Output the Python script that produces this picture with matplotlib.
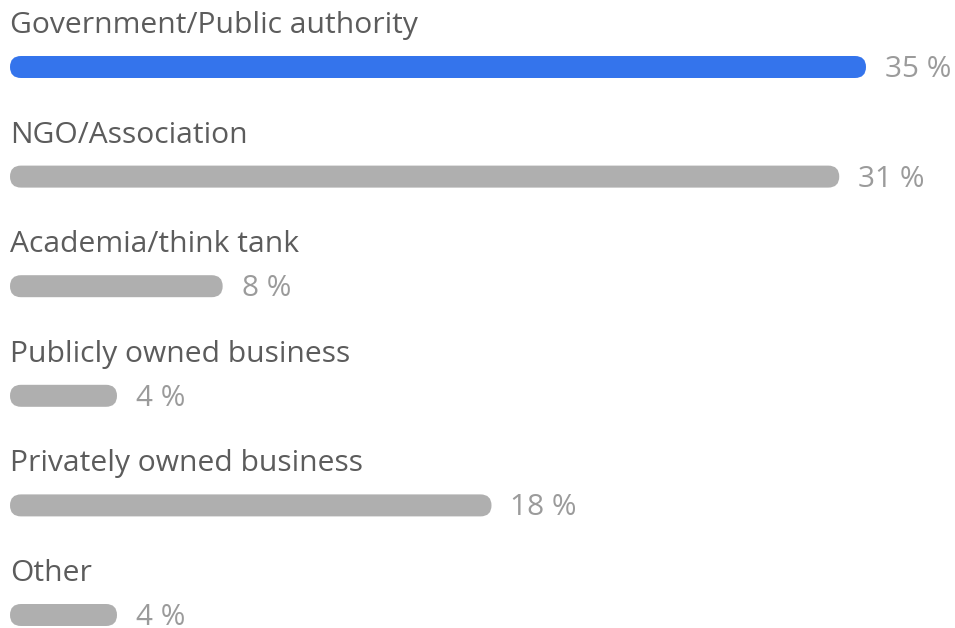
import matplotlib
matplotlib.use("Agg")
import matplotlib.pyplot as plt
from matplotlib.patches import FancyBboxPatch

plt.rcParams['font.family'] = ['Open Sans', 'DejaVu Sans']

categories = ["Government/Public authority", "NGO/Association", "Academia/think tank",
              "Publicly owned business", "Privately owned business", "Other"]
# bar lengths (in %)
values = [32.0, 31.0, 7.95, 4.0, 18.0, 4.0]
pct_labels = ["35 %", "31 %", "8 %", "4 %", "18 %", "4 %"]
highlight = 0

W, H = 955, 628
px_x = 26.75          # pixels per percent
row_px = 109.6        # pixels per row
bar_px = 22

fig = plt.figure(figsize=(W / 100, H / 100), dpi=100)
ax = fig.add_axes([0, 0, 1, 1])
ax.set_xlim(-10 / px_x, (W - 10) / px_x)
ax.set_ylim((H - 67) / row_px, -67 / row_px)
ax.axis('off')

ypos = list(range(len(categories)))
colors = ['#3474ec' if i == highlight else '#afafaf' for i in ypos]
bars = ax.barh(ypos, values, height=bar_px / row_px, color=colors)

r = (bar_px / 2) / px_x
for b, c in zip(bars, colors):
    p = FancyBboxPatch((b.get_x(), b.get_y()), b.get_width(), b.get_height(),
                       boxstyle=f"round,pad=0,rounding_size={r}",
                       mutation_aspect=px_x / row_px,
                       facecolor=c, edgecolor='none')
    ax.add_patch(p)
    b.remove()

for i, (cat, v, lab) in enumerate(zip(categories, values, pct_labels)):
    ax.text(0, i - 34 / row_px, cat, fontsize=21.6, color='#5c5c5c',
            va='baseline', ha='left')
    ax.text(v + 19 / px_x, i + 10 / row_px, lab, fontsize=21.4, color='#9b9b9b',
            va='baseline', ha='left')

fig.savefig("out.png", dpi=100)
